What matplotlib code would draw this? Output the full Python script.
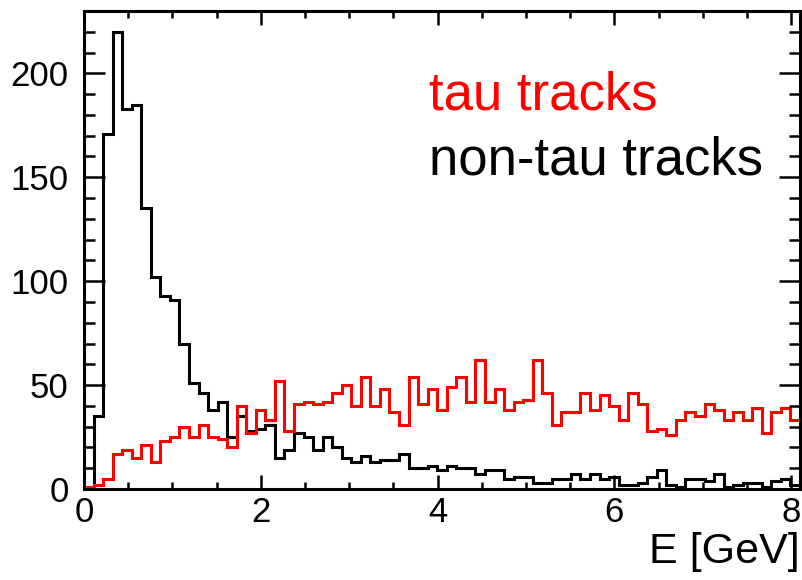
import numpy as np
import matplotlib
matplotlib.use("Agg")
import matplotlib.pyplot as plt
from matplotlib.ticker import MultipleLocator

# histogram: 75 bins from 0 to 8.1 GeV
E_MIN = 0.0
E_MAX = 8.1
N_BINS = 75

# bin contents
tau_counts = [1, 2, 5, 17, 19, 15, 21, 13, 23, 25, 30, 25, 31, 25, 24, 20, 40, 27, 38, 33,
              52, 28, 41, 42, 41, 42, 46, 50, 40, 54, 40, 48, 37, 31, 54, 41, 48,
              38, 49, 54, 42, 62, 42, 48, 38, 42, 43, 62, 46, 31, 37, 37, 46, 38,
              45, 40, 33, 46, 41, 28, 29, 26, 33, 37, 35, 41, 38, 33, 37, 33, 39, 27, 37, 39, 33]
nontau_counts = [0, 35, 171, 220, 183, 185, 135, 102, 93, 91, 70, 51, 46, 38, 42, 25, 35, 28, 29, 31,
                 15, 19, 27, 25, 19, 25, 20, 15, 13, 16, 13, 14, 14, 17, 10, 10, 11, 9, 11, 10,
                 10, 7, 9, 9, 5, 6, 6, 3, 3, 5, 5, 7, 5, 7, 5, 6, 2, 2, 3, 6,
                 9, 2, 1, 5, 5, 4, 7, 1, 2, 3, 3, 1, 4, 5, 2]

labels = ["tau tracks", "non-tau tracks"]
colors = ["#ff0000", "#000000"]

plt.rcParams['font.family'] = ['Liberation Sans', 'DejaVu Sans']

edges = np.linspace(E_MIN, E_MAX, N_BINS + 1)

fig = plt.figure(figsize=(8.02, 5.80), dpi=100)
ax = fig.add_axes([84 / 802, 1 - 489 / 580, 716 / 802, 478 / 580])

ax.stairs(nontau_counts, edges, color=colors[1], linewidth=2.2)
ax.stairs(tau_counts, edges, color=colors[0], linewidth=2.2)

ax.set_xlim(E_MIN, E_MAX)
ax.set_ylim(0, 230)

# ROOT style axes: ticks inside on every side
ax.xaxis.set_major_locator(MultipleLocator(2))
ax.xaxis.set_minor_locator(MultipleLocator(0.5))
ax.yaxis.set_major_locator(MultipleLocator(50))
ax.yaxis.set_minor_locator(MultipleLocator(10))
ax.tick_params(which='both', direction='in', top=True, right=True, width=1.8, labelsize=25)
ax.tick_params(axis='x', which='major', length=10, pad=5)
ax.tick_params(axis='x', which='minor', length=5)
ax.tick_params(axis='y', which='major', length=15, pad=11)
ax.tick_params(axis='y', which='minor', length=8)
for sp in ax.spines.values():
    sp.set_linewidth(2.2)

ax.set_xlabel("E [GeV]", loc='right', fontsize=31, labelpad=2)

# legend as plain coloured text
ax.text(0.482, 0.793, labels[0], color=colors[0], fontsize=38,
        transform=ax.transAxes, va='baseline', ha='left')
ax.text(0.482, 0.657, labels[1], color=colors[1], fontsize=38,
        transform=ax.transAxes, va='baseline', ha='left')

fig.savefig("out.png", dpi=100)
